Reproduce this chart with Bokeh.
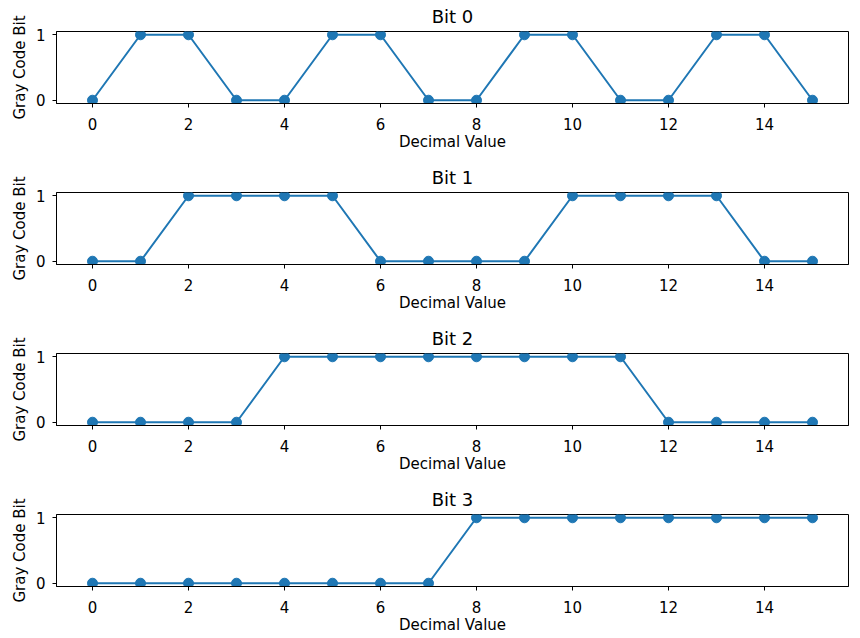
from bokeh.plotting import figure
from bokeh.layouts import column
from bokeh.models import FixedTicker, Range1d, Title
from bokeh.embed import file_html
from bokeh.resources import INLINE

decimal = list(range(16))
bit0 = [0, 1, 1, 0, 0, 1, 1, 0, 0, 1, 1, 0, 0, 1, 1, 0]
bit1 = [0, 0, 1, 1, 1, 1, 0, 0, 0, 0, 1, 1, 1, 1, 0, 0]
bit2 = [0, 0, 0, 0, 1, 1, 1, 1, 1, 1, 1, 1, 0, 0, 0, 0]
bit3 = [0, 0, 0, 0, 0, 0, 0, 0, 1, 1, 1, 1, 1, 1, 1, 1]
series = [("Bit 0", bit0), ("Bit 1", bit1), ("Bit 2", bit2), ("Bit 3", bit3)]
x_ticks = [0, 2, 4, 6, 8, 10, 12, 14]
y_ticks = [0, 1]

FONT = "DejaVu Sans"
COLOR = "#1f77b4"

figs = []
for i, (name, vals) in enumerate(series):
    last = i == len(series) - 1
    h = 155 if last else 161
    p = figure(width=860, height=h, output_backend="svg", toolbar_location=None,
               x_range=Range1d(-0.75, 15.75), y_range=Range1d(-0.05, 1.05),
               min_border_left=56, min_border_right=12, min_border_top=31,
               min_border_bottom=52 if last else 58)
    p.title = None
    t = Title(text=name, align="center", vertical_align="top", text_font=FONT,
              text_font_size="18px", text_font_style="normal", text_color="black",
              standoff=6)
    p.add_layout(t, "above")
    p.line(decimal, vals, line_color=COLOR, line_width=2)
    p.scatter(decimal, vals, size=10, fill_color=COLOR, line_color=COLOR)
    p.xgrid.visible = False
    p.ygrid.visible = False
    p.outline_line_color = "black"
    p.outline_line_width = 1
    p.outline_line_alpha = 1
    p.xaxis.ticker = FixedTicker(ticks=x_ticks)
    p.yaxis.ticker = FixedTicker(ticks=y_ticks)
    for ax in (p.xaxis, p.yaxis):
        ax.minor_tick_line_color = None
        ax.major_tick_out = 4
        ax.major_tick_in = 0
        ax.major_tick_line_color = "black"
        ax.axis_line_color = "black"
        ax.major_label_text_font = FONT
        ax.major_label_text_font_size = "15px"
        ax.major_label_text_color = "black"
        ax.axis_label_text_font = FONT
        ax.axis_label_text_font_size = "15px"
        ax.axis_label_text_font_style = "normal"
        ax.axis_label_text_color = "black"
    p.xaxis.axis_label = "Decimal Value"
    p.yaxis.axis_label = "Gray Code Bit"
    p.xaxis.major_label_standoff = 10
    p.yaxis.major_label_standoff = 7
    p.xaxis.axis_label_standoff = 0
    p.yaxis.axis_label_standoff = 4
    figs.append(p)

layout = column(*figs, spacing=0)
open("out.html", "w").write(file_html(layout, INLINE))
